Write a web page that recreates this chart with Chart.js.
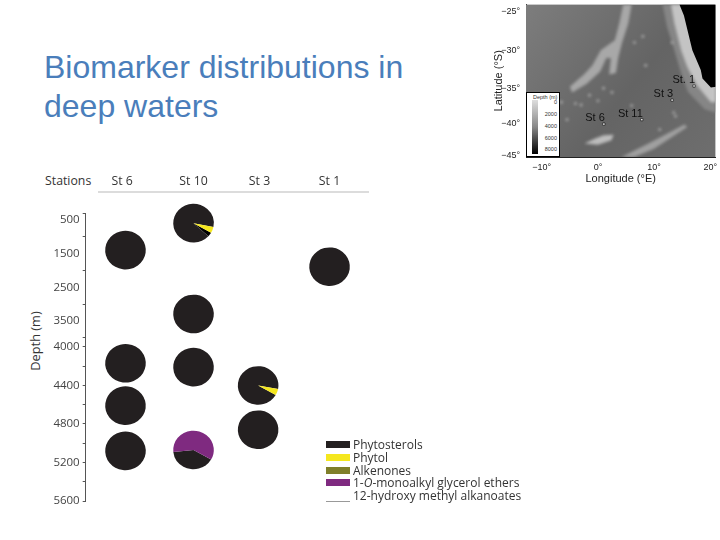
<!DOCTYPE html>
<html>
<head>
<meta charset="utf-8">
<title>Biomarker distributions in deep waters</title>
<script src="https://cdn.jsdelivr.net/npm/chart.js"></script>
<style>
  html, body { margin: 0; padding: 0; background: #fff; }
  #page { position: relative; width: 720px; height: 540px; overflow: hidden; }
  canvas { position: absolute; }
  #title { position: absolute; left: 44px; top: 48px; font: 32px/38.5px "Liberation Sans", Arial, sans-serif; color: #4a7ebb; white-space: nowrap; }
  #stations { position: absolute; left: 45px; top: 172px; font: 12.3px "Open Sans", sans-serif; color: #333; }
  #depthTitle { position: absolute; left: 35px; top: 341px; font: 12.8px "Open Sans", sans-serif; color: #333; white-space: nowrap; transform: translate(-50%, -50%) rotate(-90deg); }
  .legend-row { position: absolute; left: 326px; height: 13px; font: 12px/13px "Open Sans", sans-serif; color: #333; white-space: nowrap; }
  .legend-row i.swatch { position: absolute; left: 0; top: 3px; width: 24px; height: 7px; }
  .legend-row span { position: absolute; left: 27px; }
  #depthKey { position: absolute; left: 526px; top: 92px; width: 34px; height: 65px; background: #fff; border: 1px solid #000; box-sizing: border-box; font: 5.5px "Liberation Sans", sans-serif; color: #333; }
  #depthKey b { position: absolute; left: 6px; top: 1px; font-weight: normal; }
  #depthKey i { position: absolute; left: 5px; top: 7px; width: 6px; height: 54px; background: linear-gradient(#ddd, #888 50%, #000); }
  #depthKey span { position: absolute; right: 2px; }
</style>
</head>
<body>
<div id="page">
  <div id="title">Biomarker distributions in<br>deep waters</div>
  <div id="stations">Stations</div>
  <div id="depthTitle">Depth (m)</div>
  <canvas id="pieChart" width="720" height="540"></canvas>
  <canvas id="mapChart" width="235" height="190" style="left:485px;top:0"></canvas>
  <div id="depthKey"><b>Depth (m)</b><i></i>
    <span style="top:6px">0</span><span style="top:18px">2000</span><span style="top:30px">4000</span><span style="top:42px">6000</span><span style="top:53px">8000</span>
  </div>
  <div id="legend"></div>
</div>

<script>
  // Stations and the depth axis
  const stations = ['St 6', 'St 10', 'St 3', 'St 1'];
  const stationPos = [0, 1, 1.95, 3];
  const stationLabelPos = [-0.05, 1, 1.97, 3];
  const depthTicks = [300, 500, 1000, 1500, 2000, 2500, 3000, 3500, 3999, 4000, 4200, 4400, 4600, 4800, 5000, 5200, 5400, 5600];
  const depthLabels = [500, 1500, 2500, 3500, 4000, 4400, 4800, 5200, 5600];
  const unmarkedTicks = [500, 1500, 2500, 3500];

  // One entry per pie
  const pieStation = [1, 0, 3, 1, 0, 1, 2, 0, 2, 0, 1];
  const pieDepth = [600, 1400, 1890, 3290, 4170, 4210, 4400, 4610, 4860, 5080, 5070];

  // Percent of each compound class, clockwise in this order
  const unresolved = [3.6, 0, 0, 0, 0, 0, 0, 0, 0, 0, 0];
  const phytosterols = [91.3, 100, 100, 100, 100, 100, 94.6, 100, 100, 100, 40];
  const monoalkyl = [0, 0, 0, 0, 0, 0, 0, 0, 0, 0, 60];
  const phytol = [5.1, 0, 0, 0, 0, 0, 5.4, 0, 0, 0, 0];

  const legendNames = ['Phytosterols', 'Phytol', 'Alkenones', '1-<em>O</em>-monoalkyl glycerol ethers', '12-hydroxy methyl alkanoates'];
  const legendColors = ['#231f20', '#f5e71e', '#7f7f2a', '#7f2a80', '#ffffff'];

  // Map data: station positions and a rough outline of the seafloor
  const mapStations = ['St. 1', 'St 3', 'St 11', 'St 6'];
  const mapLon = [17.1, 13.2, 7.8, 1.05];
  const mapLat = [-34.7, -36.7, -39.5, -40.15];
  const lonTicks = [-10, 0, 10, 20];
  const latTicks = [-25, -30, -35, -40, -45];
  const land = [[14.5,-24],[15.3,-25.5],[16.8,-30],[18.3,-32.6],[18.6,-33.7],[20.1,-34.9],[21,-34.8],[21,-24]];
  const shelf = [[13,-24],[13.6,-26.5],[14.8,-30],[15.9,-32.2],[17.6,-34.6],[20.1,-37],[21,-37],[21,-24]];
  const outerShelf = [[11.5,-24],[12.3,-27],[13.6,-30],[14.8,-33],[16,-35.5],[19,-38],[21,-38.5],[21,-24]];
  const ridgeNorth = [[4.5,-24],[6,-24],[5.4,-26.5],[4.3,-29],[3.6,-31],[3.2,-33],[2,-33.2],[2.3,-31],[1.5,-31],[0.4,-32.8],[-2,-34.4],[-4.6,-35.6],[-5,-34.8],[-2.5,-33.2],[-1,-32],[0.5,-30],[3,-28.7],[3.8,-26.5]];
  const ridgeSouth = [[4.2,-45.3],[9,-43.2],[15.4,-40.2],[15.9,-40.6],[10,-44],[6.5,-45.3]];
  const patchSouth = [[-2.4,-43.2],[-0.5,-42.4],[1,-41.9],[2.8,-41.8],[2.4,-42.7],[0,-43.4]];
  const seamountLon = [-7.5, -6.5, -4, -3, -1.5, 0, 1, 2.5, 6.5, 8, 8.5, 13.5, 13.8, 11, 13.2, 6, -5.5, -8];
  const seamountLat = [-38.5, -37, -37.2, -37.4, -36, -36.8, -35, -35.6, -29, -28.2, -32, -38.5, -39, -41, -29, -37.5, -39.5, -41];

  // y axis with a break at 4000 m: the upper part is squeezed, the lower part stretched
  class SplitDepthScale extends Chart.LinearScale {
    static id = 'splitDepth';
    static defaults = Chart.LinearScale.defaults;
    getPixelForValue(value) {
      let f;
      if (value < 4000) f = (value - 300) / 3700 * 0.434;
      else f = 0.465 + (value - 4000) / 1600 * 0.535;
      return this.top + f * (this.bottom - this.top);
    }
  }

  // The latitude lines of the map are not evenly spaced
  const latStops = [-24, -25, -30, -35, -40, -45, -45.3];
  const latFractions = [0, 0.046, 0.3, 0.549, 0.778, 0.987, 1];
  class MapLatScale extends Chart.LinearScale {
    static id = 'mapLat';
    static defaults = Chart.LinearScale.defaults;
    getPixelForValue(value) {
      let i = 0;
      while (i < latStops.length - 2 && value < latStops[i + 1]) i++;
      const t = (value - latStops[i]) / (latStops[i + 1] - latStops[i]);
      const f = latFractions[i] + t * (latFractions[i + 1] - latFractions[i]);
      return this.top + f * (this.bottom - this.top);
    }
  }
  Chart.register(SplitDepthScale, MapLatScale);

  // Pie slices are drawn on the points that the scales placed
  const sliceSeries = [[unresolved, '#000000'], [phytosterols, '#231f20'], [monoalkyl, '#7f2a80'], [phytol, '#f5e71e']];
  const piesPlugin = {
    id: 'pies',
    afterDatasetsDraw(chart) {
      const ctx = chart.ctx;
      chart.getDatasetMeta(0).data.forEach(function(pt, i) {
        let angle = Math.PI / 6; // pies start 30 degrees below the x direction
        sliceSeries.forEach(function(s) {
          const sweep = s[0][i] / 100 * Math.PI * 2;
          if (sweep <= 0) return;
          ctx.beginPath();
          ctx.moveTo(pt.x, pt.y);
          ctx.ellipse(pt.x, pt.y, 20.3, 19.3, 0, angle, angle + sweep);
          ctx.closePath();
          ctx.fillStyle = s[1];
          ctx.fill();
          angle += sweep;
        });
      });
      // rule under the station names
      ctx.fillStyle = '#dcdcdc';
      ctx.fillRect(98, 191, 271, 2);
    }
  };

  new Chart(document.getElementById('pieChart'), {
    type: 'scatter',
    plugins: [piesPlugin],
    data: {
      datasets: [{
        data: pieDepth.map(function(d, i) { return { x: stationPos[pieStation[i]], y: d }; }),
        pointRadius: 0,
        pointHoverRadius: 0
      }]
    },
    options: {
      responsive: false,
      animation: false,
      layout: { padding: { left: 26, top: 165, right: 351, bottom: 39 } },
      plugins: { legend: { display: false }, tooltip: { enabled: false } },
      scales: {
        x: {
          type: 'linear',
          position: 'top',
          min: -0.585,
          max: 3.58,
          afterBuildTicks: function(axis) { axis.ticks = stationLabelPos.map(function(v) { return { value: v }; }); },
          afterFit: function(axis) { axis.height = 48; },
          grid: { display: false },
          border: { display: false },
          ticks: {
            autoSkip: false,
            maxRotation: 0,
            padding: 16,
            color: '#333',
            font: { family: '"Open Sans"', size: 12.3 },
            callback: function(value, i) { return stations[i]; }
          }
        },
        y: {
          type: 'splitDepth',
          reverse: true,
          min: 300,
          max: 5600,
          afterBuildTicks: function(axis) { axis.ticks = depthTicks.map(function(v) { return { value: v }; }); },
          afterFit: function(axis) { axis.width = 59.7; },
          border: { display: true, color: '#555' },
          grid: {
            drawOnChartArea: false,
            tickLength: 3,
            tickColor: function(c) { return unmarkedTicks.includes(c.tick && c.tick.value) ? 'rgba(0,0,0,0)' : '#555'; }
          },
          ticks: {
            autoSkip: false,
            padding: 3,
            color: '#444',
            font: { family: '"Open Sans"', size: 11.5 },
            callback: function(value) { return depthLabels.includes(value) ? String(value) : ''; }
          }
        }
      }
    }
  });

  // Legend
  const legendBox = document.getElementById('legend');
  legendNames.forEach(function(name, i) {
    const row = document.createElement('div');
    row.className = 'legend-row';
    row.style.top = (438.3 + i * 12.7) + 'px';
    const swatch = i === 4 ? 'top:12px;height:1px;background:#999' : 'background:' + legendColors[i];
    row.innerHTML = '<i class="swatch" style="' + swatch + '"></i><span>' + name + '</span>';
    legendBox.appendChild(row);
  });

  // Map inset
  function toPoints(list) { return list.map(function(p) { return { x: p[0], y: p[1] }; }); }
  function shape(list, color) {
    return { data: toPoints(list), showLine: true, fill: 'shape', backgroundColor: color, borderWidth: 0, pointRadius: 0 };
  }
  const mapPlugin = {
    id: 'mapBack',
    beforeDatasetsDraw(chart) {
      const a = chart.chartArea, ctx = chart.ctx;
      const g = ctx.createLinearGradient(a.left, a.top, a.right, a.bottom);
      g.addColorStop(0, '#7d7d7d');
      g.addColorStop(0.55, '#646464');
      g.addColorStop(1, '#6e6e6e');
      ctx.fillStyle = g;
      ctx.fillRect(a.left, a.top, a.width, a.height);
      ctx.filter = 'blur(1.5px)'; // the seafloor is soft in the source image, the coast is not
    },
    afterDatasetDraw(chart, args) {
      if (args.index === 2) chart.ctx.filter = 'none';
    },
    afterDatasetsDraw(chart) {
      const ctx = chart.ctx;
      ctx.filter = 'none';
      ctx.font = '11px "Liberation Sans"';
      ctx.fillStyle = '#111';
      ctx.textAlign = 'right';
      chart.getDatasetMeta(0).data.forEach(function(pt, i) {
        ctx.fillText(mapStations[i], pt.x + 1, pt.y - 3);
      });
    }
  };
  new Chart(document.getElementById('mapChart'), {
    type: 'scatter',
    plugins: [mapPlugin],
    data: {
      datasets: [
        {
          data: mapLon.map(function(lon, i) { return { x: lon, y: mapLat[i] }; }),
          pointRadius: 1.6,
          pointStyle: 'rect',
          backgroundColor: '#fff',
          borderColor: '#000',
          borderWidth: 0.6
        },
        shape(land, '#000000'),
        {
          data: seamountLon.map(function(lon, i) { return { x: lon, y: seamountLat[i] }; }),
          pointRadius: 1.4,
          backgroundColor: '#b0b0b0',
          borderWidth: 0
        },
        shape(shelf, '#c4c4c4'),
        shape(outerShelf, '#868686'),
        shape(ridgeNorth, '#a8a8a8'),
        shape(ridgeSouth, '#a0a0a0'),
        shape(patchSouth, '#bdbdbd')
      ]
    },
    options: {
      responsive: false,
      animation: false,
      layout: { padding: { left: 7, top: 4, right: 3, bottom: 4 } },
      plugins: { legend: { display: false }, tooltip: { enabled: false } },
      scales: {
        x: {
          type: 'linear',
          min: -12.8,
          max: 20.9,
          afterBuildTicks: function(axis) { axis.ticks = lonTicks.map(function(v) { return { value: v }; }); },
          afterFit: function(axis) { axis.height = 29; },
          title: { display: true, text: 'Longitude (°E)', color: '#222', padding: 0, font: { family: '"Liberation Sans"', size: 11 } },
          grid: { display: false },
          border: { color: '#222' },
          ticks: {
            autoSkip: false,
            maxRotation: 0,
            padding: -3,
            color: '#222',
            font: { family: '"Liberation Sans"', size: 9 },
            callback: function(value) { return String(value).replace('-', '−') + '°'; }
          }
        },
        y: {
          type: 'mapLat',
          min: -45.3,
          max: -24,
          afterBuildTicks: function(axis) { axis.ticks = latTicks.map(function(v) { return { value: v }; }); },
          afterFit: function(axis) { axis.width = 34; },
          title: { display: true, text: 'Latitude (°S)', color: '#222', padding: 0, font: { family: '"Liberation Sans"', size: 11 } },
          grid: { display: false },
          border: { color: '#222' },
          ticks: {
            autoSkip: false,
            padding: -2,
            color: '#222',
            font: { family: '"Liberation Sans"', size: 9 },
            callback: function(value) { return String(value).replace('-', '−') + '°'; }
          }
        }
      }
    }
  });
</script>
</body>
</html>
